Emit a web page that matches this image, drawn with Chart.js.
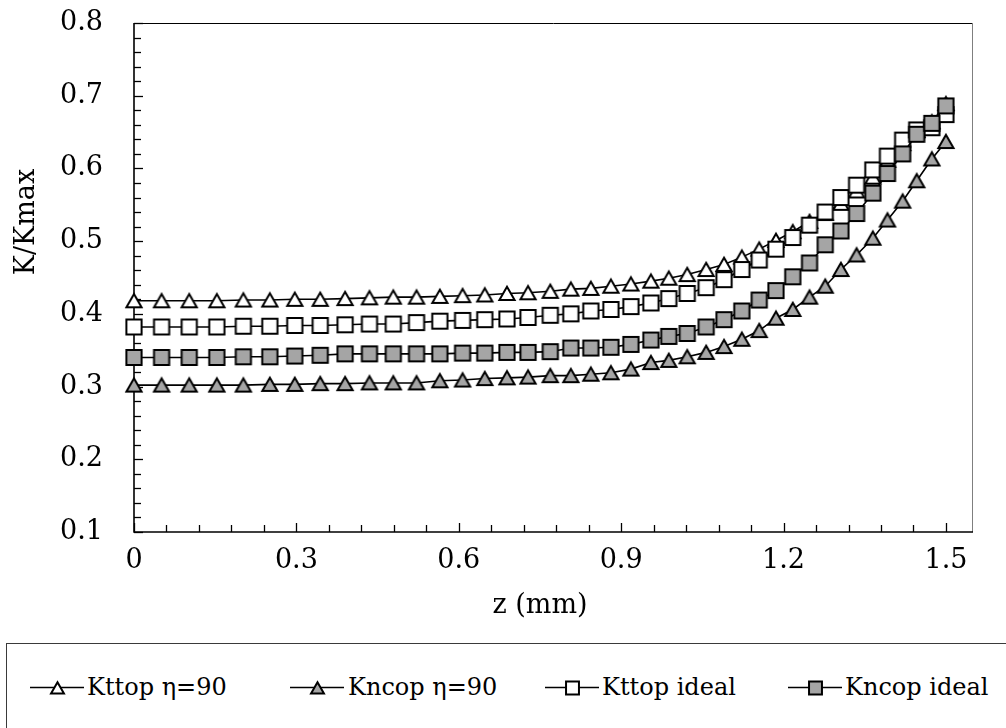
<!DOCTYPE html>
<html><head><meta charset="utf-8">
<script src="https://cdn.jsdelivr.net/npm/chart.js@4.4.1/dist/chart.umd.min.js"></script>
<style>
html,body{margin:0;padding:0;background:#fff;overflow:hidden;width:1006px;height:728px;}
#wrap{position:relative;width:1006px;height:728px;}
#c{position:absolute;left:0;top:0;}
#legend{position:absolute;left:6px;top:643px;width:1010px;height:100px;border:1px solid #3a3a3a;box-sizing:border-box;font-family:'DejaVu Serif';font-size:24px;color:#000;}
.item{position:absolute;top:28px;height:30px;}
.item canvas{position:absolute;left:0;top:5px;}
.item span{position:absolute;top:0;line-height:30px;white-space:nowrap;}
</style></head>
<body><div id="wrap"><canvas id="c" width="1006" height="640"></canvas><div id="legend"></div></div>
<script>
// ---- data ----
const zValues = [0,0.051,0.102,0.153,0.202,0.251,0.297,0.344,0.390,0.435,0.479,0.522,0.565,0.607,0.648,0.689,0.728,0.769,0.807,0.844,0.881,0.918,0.955,0.988,1.022,1.057,1.090,1.123,1.155,1.186,1.217,1.248,1.277,1.306,1.335,1.365,1.392,1.420,1.446,1.474,1.500];
const kttopEta90 = [0.418,0.418,0.418,0.418,0.419,0.419,0.420,0.420,0.421,0.422,0.423,0.423,0.424,0.425,0.426,0.428,0.429,0.431,0.434,0.435,0.438,0.441,0.445,0.449,0.454,0.461,0.468,0.478,0.489,0.501,0.513,0.527,0.538,0.552,0.569,0.588,0.611,0.634,0.652,0.664,0.689];
const kncopEta90 = [0.302,0.302,0.302,0.302,0.302,0.303,0.303,0.304,0.304,0.305,0.305,0.305,0.308,0.309,0.311,0.312,0.313,0.315,0.315,0.317,0.319,0.324,0.333,0.336,0.341,0.347,0.355,0.365,0.377,0.394,0.406,0.423,0.438,0.461,0.481,0.504,0.529,0.555,0.583,0.613,0.637];
const kttopIdeal = [0.382,0.382,0.382,0.382,0.383,0.383,0.384,0.384,0.385,0.386,0.386,0.388,0.390,0.391,0.392,0.393,0.395,0.398,0.400,0.404,0.406,0.410,0.415,0.421,0.428,0.436,0.447,0.461,0.474,0.489,0.505,0.522,0.540,0.560,0.577,0.598,0.617,0.639,0.653,0.656,0.674];
const kncopIdeal = [0.340,0.340,0.340,0.340,0.341,0.341,0.342,0.343,0.345,0.345,0.345,0.345,0.345,0.346,0.346,0.347,0.347,0.348,0.353,0.353,0.354,0.358,0.364,0.369,0.373,0.382,0.392,0.404,0.419,0.432,0.451,0.470,0.495,0.514,0.538,0.566,0.593,0.620,0.647,0.662,0.686];
const seriesNames = ['Kttop η=90','Kncop η=90','Kttop ideal','Kncop ideal'];
const xTickValues = [0,0.3,0.6,0.9,1.2,1.5];
const xTickLabels = ['0','0.3','0.6','0.9','1.2','1.5'];
const yTickValues = [0.1,0.2,0.3,0.4,0.5,0.6,0.7,0.8];
const yTickLabels = ['0.1','0.2','0.3','0.4','0.5','0.6','0.7','0.8'];
const xTitle = 'z (mm)';
const yTitle = 'K/Kmax';

// ---- styles ----
const FONT = 'DejaVu Serif';
const GRAY = '#a5a5a5';
function marker(shape, fill, scale){
  const s = scale || 1;
  const c = document.createElement('canvas');
  const W = Math.round(22*s), H = Math.round(21*s);
  c.width = W; c.height = H;
  const g = c.getContext('2d');
  g.fillStyle = fill; g.strokeStyle = '#000'; g.lineWidth = 2*Math.min(1,s+0.2); g.lineJoin='miter';
  g.beginPath();
  if (shape === 'tri') {
    g.moveTo(W/2, H/2 - 6.8*s); g.lineTo(W/2+7.6*s, H/2 + 6.6*s); g.lineTo(W/2-7.6*s, H/2 + 6.6*s); g.closePath();
  } else {
    const a = 7.6*s; g.rect(W/2-a, H/2-a, 2*a, 2*a);
  }
  g.fill(); g.stroke();
  return c;
}
const styles = [
  {shape:'tri', fill:'#fff', order:4},
  {shape:'tri', fill:GRAY, order:3},
  {shape:'sq', fill:'#fff', order:2},
  {shape:'sq', fill:GRAY, order:1}
];
const seriesValues = [kttopEta90, kncopEta90, kttopIdeal, kncopIdeal];

const datasets = seriesValues.map((vals, k) => ({
  label: seriesNames[k],
  data: zValues.map((z, i) => ({x: z, y: vals[i]})),
  borderColor: '#000', borderWidth: 1.6,
  pointStyle: marker(styles[k].shape, styles[k].fill, 1),
  pointRadius: 8, pointHoverRadius: 8,
  tension: 0, clip: false, order: styles[k].order
}));

const framePlugin = {
  id: 'frame',
  beforeDatasetsDraw(chart){
    const {ctx, chartArea: a, scales: {x, y}} = chart;
    ctx.save();
    ctx.lineWidth = 1;
    ctx.strokeStyle = '#000';
    ctx.beginPath(); ctx.moveTo(a.left, a.top + 0.5); ctx.lineTo(a.right, a.top + 0.5); ctx.stroke();
    ctx.strokeStyle = '#7f7f7f';
    ctx.beginPath(); ctx.moveTo(a.right - 0.5, a.top); ctx.lineTo(a.right - 0.5, a.bottom); ctx.stroke();
    ctx.strokeStyle = '#000'; ctx.lineWidth = 1.6;
    ctx.beginPath(); ctx.moveTo(a.left, a.top); ctx.lineTo(a.left, a.bottom); ctx.lineTo(a.right, a.bottom); ctx.stroke();
    ctx.lineWidth = 1.3;
    const xMinorStep = 0.06, yMinorStep = 0.02;
    for (let k = 0; k <= 25; k++) {
      const v = k * xMinorStep; if (v > 1.5001) break;
      const px = Math.round(x.getPixelForValue(v)) + 0.5;
      const len = (k % 5 === 0) ? 9 : 7;
      ctx.beginPath(); ctx.moveTo(px, a.bottom); ctx.lineTo(px, a.bottom - len); ctx.stroke();
    }
    for (let k = 0; k <= 35; k++) {
      const v = 0.1 + k * yMinorStep;
      const py = Math.round(y.getPixelForValue(v)) + 0.5;
      const len = (k % 5 === 0) ? 9 : 7;
      ctx.beginPath(); ctx.moveTo(a.left, py); ctx.lineTo(a.left + len, py); ctx.stroke();
    }
    // axis titles
    ctx.fillStyle = '#000';
    ctx.font = '27px "' + FONT + '"';
    ctx.textAlign = 'center'; ctx.textBaseline = 'middle';
    ctx.fillText(xTitle, 540, 606);
    ctx.translate(27, 222); ctx.rotate(-Math.PI / 2);
    ctx.fillText(yTitle, 0, 0);
    ctx.restore();
  }
};

new Chart(document.getElementById('c').getContext('2d'), {
  type: 'line',
  data: {datasets},
  options: {
    responsive: false, animation: false, devicePixelRatio: 1,
    layout: {padding: {left: 0, right: 33, top: 23, bottom: 0}},
    plugins: {legend: {display: false}, tooltip: {enabled: false}},
    scales: {
      x: {
        type: 'linear', min: 0, max: 1.55,
        grid: {display: false, drawTicks: false}, border: {display: false},
        afterBuildTicks: s => { s.ticks = xTickValues.map(v => ({value: v})); },
        afterFit: s => { s.height = 108; s.paddingLeft = 0; s.paddingRight = 0; },
        ticks: {padding: 13, color: '#000', font: {family: FONT, size: 27}, maxRotation: 0, autoSkip: false,
          callback: (v, i) => xTickLabels[i]},
        title: {display: false}
      },
      y: {
        type: 'linear', min: 0.1, max: 0.8,
        grid: {display: false, drawTicks: false}, border: {display: false},
        afterBuildTicks: s => { s.ticks = yTickValues.map(v => ({value: v})); },
        afterFit: s => { s.width = 134; s.paddingTop = 0; s.paddingBottom = 0; },
        ticks: {padding: 31, color: '#000', font: {family: FONT, size: 27}, autoSkip: false,
          callback: (v, i) => yTickLabels[i]},
        title: {display: false}
      }
    }
  },
  plugins: [framePlugin]
});

// ---- legend ----
const legend = document.getElementById('legend');
const iconLefts = [30, 290, 545, 788];
const textLefts = [87, 348, 602, 845];
seriesNames.forEach((name, k) => {
  const item = document.createElement('div');
  item.className = 'item';
  item.style.left = (iconLefts[k] - 7) + 'px';
  const c = document.createElement('canvas');
  c.width = 56; c.height = 20;
  const g = c.getContext('2d');
  g.strokeStyle = '#000'; g.lineWidth = 1.6;
  g.beginPath(); g.moveTo(0, 10.5); g.lineTo(54, 10.5); g.stroke();
  const m = marker(styles[k].shape, styles[k].fill, 0.85);
  g.drawImage(m, Math.round(27 - m.width/2), Math.round(10.5 - m.height/2));
  item.appendChild(c);
  const sp = document.createElement('span');
  sp.textContent = name;
  sp.style.left = (textLefts[k] - iconLefts[k]) + 'px';
  item.appendChild(sp);
  legend.appendChild(item);
});
</script>
</body></html>
